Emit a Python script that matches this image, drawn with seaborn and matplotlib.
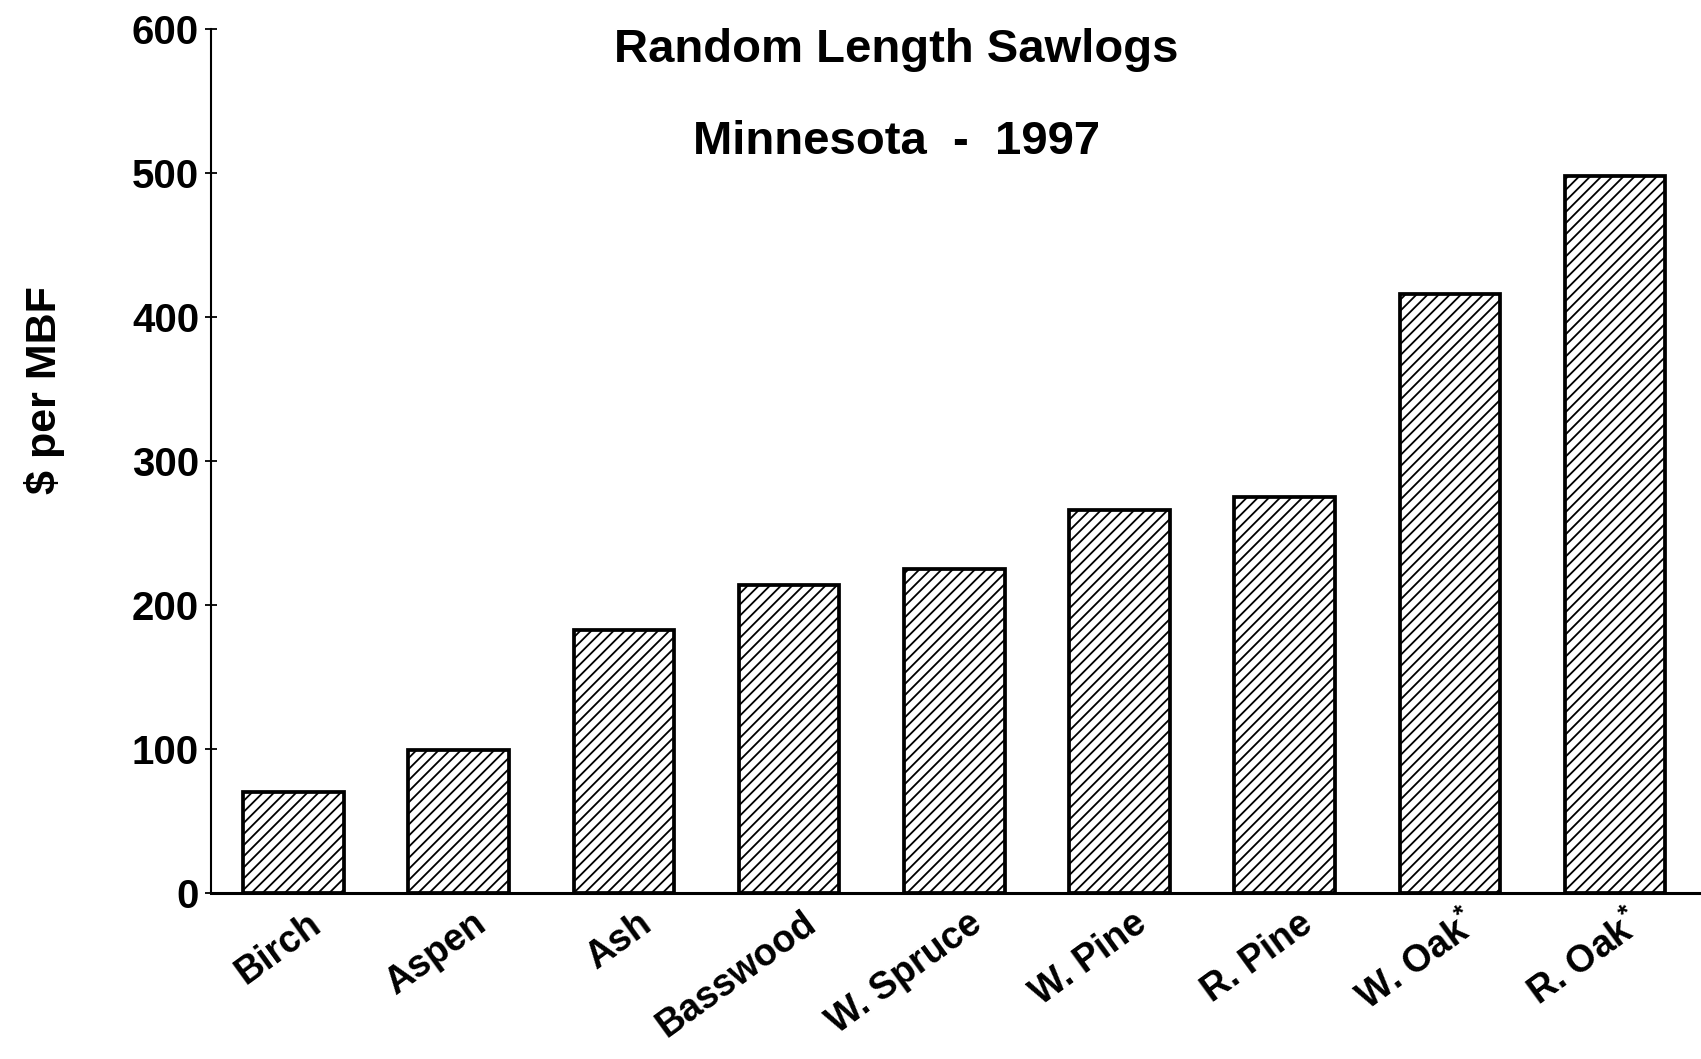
import matplotlib
matplotlib.use("Agg")
import matplotlib.pyplot as plt
import matplotlib.transforms as mtransforms
import seaborn as sns
import pandas as pd
from matplotlib import font_manager

# Sawlog prices, Minnesota 1997 ($ per thousand board feet)
species = ["Birch", "Aspen", "Ash", "Basswood", "W. Spruce", "W. Pine",
           "R. Pine", "W. Oak$^{\\mathbf{*}}$", "R. Oak$^{\\mathbf{*}}$"]
price = [70, 99, 183, 214, 225, 266, 275, 416, 498]
y_ticks = [0, 100, 200, 300, 400, 500, 600]

sns.set_theme(style="white")
names = {f.name for f in font_manager.fontManager.ttflist}
narrow = "Liberation Sans Narrow" if "Liberation Sans Narrow" in names else "Liberation Sans"
plt.rcParams["font.family"] = ["Liberation Sans", "DejaVu Sans"]
plt.rcParams["text.color"] = "black"
plt.rcParams["axes.labelcolor"] = "black"
plt.rcParams["xtick.color"] = "black"
plt.rcParams["ytick.color"] = "black"
plt.rcParams["mathtext.fontset"] = "custom"
plt.rcParams["mathtext.bf"] = "Liberation Sans:bold"
plt.rcParams["mathtext.rm"] = "Liberation Sans:bold"
plt.rcParams["hatch.linewidth"] = 1.3
plt.rcParams["hatch.color"] = "black"

df = pd.DataFrame({"species": species, "price": price})

fig = plt.figure(figsize=(17.01, 10.59), dpi=100)
ax = fig.add_axes([0.124, 0.1567, 0.876, 0.8159])

sns.barplot(data=df, x="species", y="price", color="white", saturation=1,
            edgecolor="black", linewidth=2.7, width=0.61, hatch="///", ax=ax)

ax.set_xlim(-0.5, 8.52)
ax.set_ylim(0, 600)
ax.set_yticks(y_ticks)
ax.set_yticklabels([str(v) for v in y_ticks], fontfamily=[narrow, "DejaVu Sans"],
                   fontsize=29, fontweight="bold")
ax.tick_params(axis="y", direction="inout", length=9, width=1.3, pad=4, left=True,
               colors="black")
ax.tick_params(axis="x", length=0, pad=9)

for s in ["top", "right"]:
    ax.spines[s].set_visible(False)
ax.spines["left"].set_linewidth(1.5)
ax.spines["left"].set_color("black")
ax.spines["bottom"].set_linewidth(2.2)
ax.spines["bottom"].set_color("black")

offset = mtransforms.ScaledTranslation(0.13, 0.0, fig.dpi_scale_trans)
for lbl in ax.get_xticklabels():
    lbl.set_rotation(36)
    lbl.set_ha("right")
    lbl.set_va("top")
    lbl.set_rotation_mode("anchor")
    lbl.set_fontsize(27)
    lbl.set_fontweight("bold")
    lbl.set_color("black")
    lbl.set_transform(lbl.get_transform() + offset)

ax.set_xlabel("")
ax.set_ylabel("")
fig.text(0.026, 0.632, "$ per MBF", rotation=90, ha="center", va="center",
         fontsize=31, fontweight="bold")

fig.text(0.527, 0.953, "Random Length Sawlogs", ha="center", va="center",
         fontsize=34, fontweight="bold")
fig.text(0.527, 0.866, "Minnesota  -  1997", ha="center", va="center",
         fontsize=34, fontweight="bold")

fig.savefig("out.png", dpi=100)
